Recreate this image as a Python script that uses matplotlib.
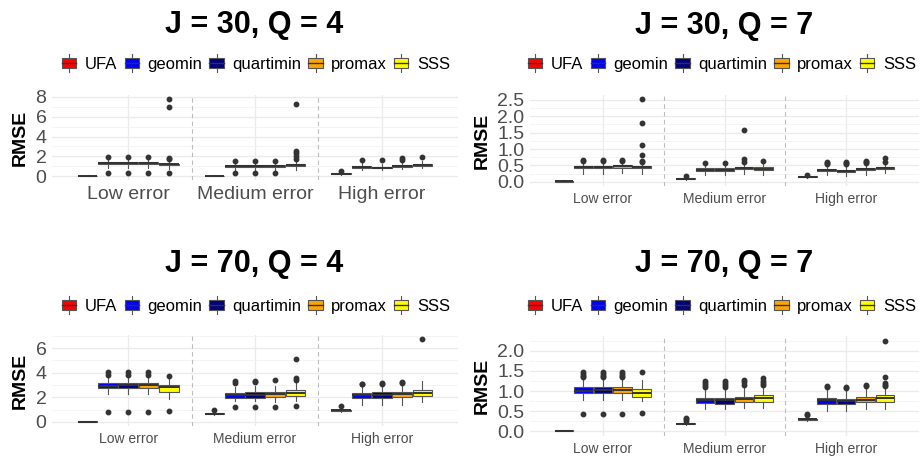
import numpy as np
import matplotlib
matplotlib.use('Agg')
import matplotlib.pyplot as plt
from matplotlib.patches import Rectangle, Patch
from matplotlib.lines import Line2D
from matplotlib.legend_handler import HandlerBase
from matplotlib.ticker import MultipleLocator, FormatStrFormatter

plt.rcParams['font.family'] = ['Liberation Sans', 'DejaVu Sans']

methods = ['UFA', 'geomin', 'quartimin', 'promax', 'SSS']
method_colors = ['#ff0000', '#0000ff', '#000080', '#ffa500', '#ffff00']
error_levels = ['Low error', 'Medium error', 'High error']

# box stats per row: q1, median, q3, lower whisker, upper whisker
# rows: Low error (UFA..SSS), Medium error (UFA..SSS), High error (UFA..SSS)
j30q4_box = [
    [0.00, 0.02, 0.04, 0.00, 0.07], [1.20, 1.30, 1.38, 0.85, 1.70], [1.20, 1.30, 1.38, 0.85, 1.70],
    [1.20, 1.30, 1.38, 0.85, 1.70], [1.10, 1.18, 1.27, 0.75, 1.60],
    [0.00, 0.02, 0.04, 0.00, 0.07], [0.94, 1.00, 1.08, 0.65, 1.35], [0.94, 1.00, 1.08, 0.65, 1.35],
    [0.96, 1.02, 1.10, 0.65, 1.38], [1.02, 1.10, 1.20, 0.60, 1.50],
    [0.20, 0.24, 0.28, 0.15, 0.38], [0.86, 0.93, 1.00, 0.65, 1.30], [0.80, 0.86, 0.95, 0.60, 1.25],
    [0.92, 1.00, 1.08, 0.70, 1.40], [1.05, 1.14, 1.24, 0.80, 1.55],
]
j30q4_out = [
    [], [1.93, 0.35], [1.93, 0.35], [1.93, 0.35], [7.8, 6.95, 1.85, 1.75, 0.35],
    [], [1.55, 0.35], [1.55, 0.35], [1.55, 0.35], [7.3, 2.55, 2.3, 2.0, 1.7],
    [0.48], [1.59], [1.59], [1.8, 1.65], [1.97],
]

j30q7_box = [
    [0.00, 0.02, 0.03, 0.00, 0.05], [0.41, 0.45, 0.49, 0.25, 0.60], [0.41, 0.45, 0.49, 0.25, 0.60],
    [0.43, 0.48, 0.51, 0.27, 0.62], [0.41, 0.45, 0.49, 0.25, 0.60],
    [0.08, 0.10, 0.12, 0.06, 0.15], [0.34, 0.37, 0.41, 0.22, 0.52], [0.34, 0.37, 0.41, 0.22, 0.50],
    [0.38, 0.42, 0.46, 0.25, 0.55], [0.35, 0.40, 0.45, 0.22, 0.60],
    [0.14, 0.15, 0.17, 0.12, 0.20], [0.32, 0.35, 0.38, 0.20, 0.50], [0.30, 0.33, 0.37, 0.18, 0.50],
    [0.35, 0.38, 0.42, 0.22, 0.53], [0.39, 0.42, 0.46, 0.27, 0.60],
]
j30q7_out = [
    [], [0.68, 0.65], [0.68, 0.65], [0.68, 0.65], [2.52, 1.8, 1.13, 0.82, 0.65, 0.62],
    [0.18], [0.58], [0.56], [1.58, 0.7, 0.6], [0.64],
    [0.22], [0.62, 0.58, 0.55], [0.6, 0.57, 0.53], [0.63, 0.59, 0.56], [0.74, 0.62],
]

j70q4_box = [
    [0.00, 0.01, 0.03, 0.00, 0.04], [2.72, 2.93, 3.15, 2.31, 3.70], [2.74, 2.99, 3.20, 2.30, 3.70],
    [2.74, 2.98, 3.20, 2.30, 3.70], [2.47, 2.80, 3.02, 1.85, 3.55],
    [0.60, 0.65, 0.70, 0.55, 0.80], [1.98, 2.20, 2.39, 1.66, 2.85], [1.98, 2.20, 2.42, 1.66, 2.90],
    [2.00, 2.25, 2.45, 1.65, 2.95], [2.07, 2.39, 2.60, 1.70, 3.20],
    [0.88, 0.95, 1.00, 0.80, 1.15], [1.93, 2.17, 2.39, 1.36, 2.90], [1.93, 2.17, 2.40, 1.36, 2.95],
    [2.00, 2.25, 2.45, 1.40, 3.00], [2.12, 2.39, 2.60, 1.58, 3.29],
]
j70q4_out = [
    [], [4.08, 3.83, 0.84], [4.1, 3.85, 0.84], [4.1, 3.8, 0.84], [3.75, 0.9],
    [0.95], [3.34, 3.2, 1.25], [3.34, 3.22, 1.25], [3.42, 1.25], [5.1, 3.56, 3.4, 1.3],
    [1.3], [3.12, 3.05], [3.15, 3.08], [3.26, 3.18], [6.74],
]

j70q7_box = [
    [0.00, 0.02, 0.03, 0.00, 0.04], [0.95, 1.01, 1.09, 0.78, 1.30], [0.95, 1.03, 1.10, 0.78, 1.30],
    [0.95, 1.03, 1.10, 0.78, 1.30], [0.86, 0.96, 1.05, 0.76, 1.28],
    [0.18, 0.19, 0.21, 0.16, 0.24], [0.70, 0.77, 0.84, 0.56, 1.05], [0.68, 0.77, 0.84, 0.56, 1.05],
    [0.72, 0.80, 0.86, 0.59, 1.08], [0.74, 0.82, 0.89, 0.58, 1.10],
    [0.28, 0.30, 0.32, 0.25, 0.37], [0.68, 0.77, 0.82, 0.51, 1.03], [0.68, 0.76, 0.80, 0.51, 1.03],
    [0.72, 0.79, 0.85, 0.55, 1.08], [0.74, 0.82, 0.89, 0.56, 1.10],
]
j70q7_out = [
    [], [1.46, 1.42, 1.38, 1.35, 0.43], [1.46, 1.42, 1.38, 1.35, 0.43], [1.46, 1.42, 1.38, 1.35, 0.43], [1.48, 0.45],
    [0.33, 0.3, 0.26], [1.25, 1.2, 1.15, 1.1], [1.25, 1.2, 1.15, 1.1], [1.28, 1.22, 1.16], [1.32, 1.25, 1.2, 1.16],
    [0.43, 0.41], [1.12, 1.09], [1.11, 1.08], [1.16, 1.13], [2.25, 1.36, 1.2, 1.16, 1.13],
]


class BoxKey(HandlerBase):
    # ggplot-like boxplot legend key
    def create_artists(self, legend, orig_handle, xdescent, ydescent, width, height, fontsize, trans):
        x0, y0 = -xdescent, -ydescent - 2
        h = height + 4
        cx = x0 + width / 2
        box = Rectangle((x0, y0 + 0.22 * h), width, 0.56 * h, facecolor=orig_handle.get_facecolor(),
                        edgecolor='#555555', lw=0.8, transform=trans)
        med = Line2D([x0, x0 + width], [y0 + h / 2] * 2, color='#333333', lw=1.0, transform=trans)
        w1 = Line2D([cx, cx], [y0, y0 + 0.22 * h], color='#555555', lw=0.8, transform=trans)
        w2 = Line2D([cx, cx], [y0 + 0.78 * h, y0 + h], color='#555555', lw=0.8, transform=trans)
        return [w1, w2, box, med]


W, H = 922, 457
fig = plt.figure(figsize=(W / 100, H / 100), dpi=100)


def px_axes(x0, y0, x1, y1):
    return fig.add_axes([x0 / W, 1 - y1 / H, (x1 - x0) / W, (y1 - y0) / H])


panels = [
    # title, box, outliers, rect, major step, fmt, x font, title y, legend y, centre x, RMSE x, legend x
    ('J = 30, Q = 4', j30q4_box, j30q4_out, (52, 95, 458, 180), 2, '%d', 14, 25, 64, 254, 20, 256),
    ('J = 30, Q = 7', j30q7_box, j30q7_out, (530, 95, 919, 186), 0.5, '%.1f', 10, 26, 64, 724, 482, 722),
    ('J = 70, Q = 4', j70q4_box, j70q4_out, (52, 335, 458, 426), 2, '%d', 10, 264, 306, 254, 20, 256),
    ('J = 70, Q = 7', j70q7_box, j70q7_out, (530, 336, 919, 436), 0.5, '%.1f', 10, 264, 306, 724, 482, 722),
]

for title, box, out, rect, step, fmt, xfs, ty, ly, cx, rx, lx in panels:
    ax = px_axes(*rect)
    stats, pos, cols = [], [], []
    for i, (row, fl) in enumerate(zip(box, out)):
        g, m = divmod(i, 5)
        stats.append(dict(q1=row[0], med=row[1], q3=row[2], whislo=row[3], whishi=row[4], fliers=fl))
        pos.append(g + 1 + (m - 2) * 0.16)
        cols.append(method_colors[m])
    bp = ax.bxp(stats, positions=pos, widths=0.155, patch_artist=True, showcaps=False,
                boxprops=dict(edgecolor='#555555', lw=0.8),
                medianprops=dict(color='#333333', lw=1.4),
                whiskerprops=dict(color='#555555', lw=0.8),
                flierprops=dict(marker='o', markersize=3.2, markerfacecolor='#333333',
                                markeredgecolor='#333333'), zorder=3)
    for patch, c in zip(bp['boxes'], cols):
        patch.set_facecolor(c)

    vals = [v for r in box for v in r] + [v for f in out for v in f]
    lo, hi = min(vals), max(vals)
    pad = 0.05 * (hi - lo)
    ax.set_ylim(lo - pad, hi + pad)
    ax.set_xlim(0.4, 3.6)
    ax.yaxis.set_major_locator(MultipleLocator(step))
    ax.yaxis.set_minor_locator(MultipleLocator(step / 2))
    ax.yaxis.set_major_formatter(FormatStrFormatter(fmt))
    ax.set_xticks([1, 2, 3])
    ax.set_xticklabels(error_levels)
    ax.tick_params(axis='both', length=0, colors='#4d4d4d')
    ax.tick_params(axis='y', which='both', length=0, labelsize=14, pad=4)
    ax.tick_params(axis='x', labelsize=xfs, pad=4)
    ax.grid(True, which='major', color='#ebebeb', lw=1.0, zorder=0)
    ax.grid(True, which='minor', axis='y', color='#f3f3f3', lw=0.6, zorder=0)
    ax.set_axisbelow(True)
    for s in ax.spines.values():
        s.set_visible(False)
    for xv in [1.5, 2.5]:
        ax.axvline(xv, color='#bdbdbd', lw=0.8, ls=(0, (4, 3)), zorder=1)

    fig.text(cx / W, 1 - ty / H, title, ha='center', va='center', fontsize=22, fontweight='bold')
    fig.text(rx / W, 1 - (rect[1] + rect[3]) / 2 / H, 'RMSE', rotation=90,
             ha='center', va='center', fontsize=14, fontweight='bold')
    handles = [Patch(facecolor=c) for c in method_colors]
    ax.legend(handles, methods, handler_map={Patch: BoxKey()}, ncol=5, loc='center',
              bbox_to_anchor=(lx / W, 1 - ly / H), bbox_transform=fig.transFigure,
              frameon=False, fontsize=12, handlelength=0.85, handleheight=0.8,
              handletextpad=0.5, columnspacing=0.45, borderpad=0)

fig.savefig('out.png', dpi=100)
